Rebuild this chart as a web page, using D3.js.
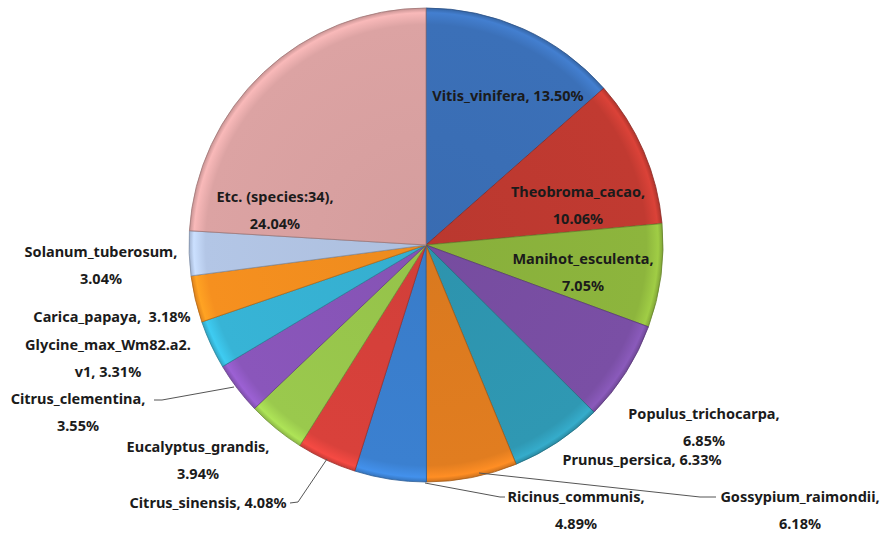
<!DOCTYPE html>
<html>
<head>
  <meta charset="utf-8">
  <title>species pie</title>
  <script src="https://d3js.org/d3.v7.min.js"></script>
  <style>
    body { margin: 0; background: #fff; }
    .lbl { font: bold 14.5px "Noto Sans", "Open Sans", sans-serif; fill: #1b1b1b; white-space: pre; }
    .leader { fill: none; stroke: #555; stroke-width: 1; }
  </style>
</head>
<body>
<svg id="chart" width="884" height="534"></svg>
<script>
  // species and share (%), clockwise from 12 o'clock
  var species = ["Vitis_vinifera", "Theobroma_cacao", "Manihot_esculenta", "Populus_trichocarpa",
    "Prunus_persica", "Gossypium_raimondii", "Ricinus_communis", "Citrus_sinensis",
    "Eucalyptus_grandis", "Citrus_clementina", "Glycine_max_Wm82.a2.v1", "Carica_papaya",
    "Solanum_tuberosum", "Etc. (species:34)"];
  var shares = [13.50, 10.06, 7.05, 6.85, 6.33, 6.18, 4.89, 4.08, 3.94, 3.55, 3.31, 3.18, 3.04, 24.04];
  var colors = ["#3b70b8", "#c13a31", "#8db53d", "#7a4fa5", "#2f98b3", "#e17d20", "#3b80d0",
    "#d9413b", "#9ac94d", "#8a56bb", "#37b4d6", "#f6901f", "#b3c6e6", "#dca3a3"];

  // label text lines as they wrap in the picture
  var labelLines = [
    ["Vitis_vinifera, 13.50%"],
    ["Theobroma_cacao,", "10.06%"],
    ["Manihot_esculenta,", "7.05%"],
    ["Populus_trichocarpa,", "6.85%"],
    ["Prunus_persica, 6.33%"],
    ["Gossypium_raimondii,", "6.18%"],
    ["Ricinus_communis,", "4.89%"],
    ["Citrus_sinensis, 4.08%"],
    ["Eucalyptus_grandis,", "3.94%"],
    ["Citrus_clementina,", "3.55%"],
    ["Glycine_max_Wm82.a2.", "v1, 3.31%"],
    ["Carica_papaya,  3.18%"],
    ["Solanum_tuberosum,", "3.04%"],
    ["Etc. (species:34),", "24.04%"]
  ];

  // layout: label anchor positions (centre of first line) and leader lines
  var labelPos = [[508, 96], [578, 192], [583, 259], [704, 414], [642, 460], [800, 497],
    [576, 497], [208, 503], [198, 447], [78, 399], [108, 345], [112, 317], [101, 252], [275, 197]];
  var leaders = {
    5: [[479, 473], [700, 497], [716, 497]],
    6: [[425, 483], [500, 497], [505, 497]],
    7: [[290, 503], [298, 502], [327, 459]],
    9: [[154, 400], [162, 400], [234, 387]]
  };

  var cx = 426, cy = 245, radius = 237;
  var lineGap = 27;

  var svg = d3.select("#chart");
  var defs = svg.append("defs");

  // radial shading: slightly lighter at rim, like the office bevel
  colors.forEach(function (c, i) {
    var g = defs.append("radialGradient")
      .attr("id", "grad" + i)
      .attr("gradientUnits", "userSpaceOnUse")
      .attr("cx", 0).attr("cy", 0).attr("r", radius);
    g.append("stop").attr("offset", "0%").attr("stop-color", d3.color(c).darker(0.1));
    g.append("stop").attr("offset", "93%").attr("stop-color", c);
    g.append("stop").attr("offset", "98%").attr("stop-color", d3.color(c).brighter(0.35));
    g.append("stop").attr("offset", "100%").attr("stop-color", d3.color(c).darker(0.3));
  });

  var pie = d3.pie().sort(null).value(function (d) { return d; });
  var arc = d3.arc().innerRadius(0).outerRadius(radius);

  var g = svg.append("g").attr("transform", "translate(" + cx + "," + cy + ")");

  g.selectAll("path.slice")
    .data(pie(shares))
    .enter().append("path")
    .attr("class", "slice")
    .attr("d", arc)
    .attr("fill", function (d, i) { return "url(#grad" + i + ")"; })
    .attr("stroke", function (d, i) { return d3.color(colors[i]).darker(0.9); })
    .attr("stroke-width", 0.8)
    .attr("stroke-linejoin", "round");

  // leader lines
  Object.keys(leaders).forEach(function (k) {
    svg.append("path")
      .attr("class", "leader")
      .attr("d", d3.line()(leaders[k]));
  });

  // labels
  labelLines.forEach(function (lines, i) {
    var t = svg.append("text")
      .attr("class", "lbl")
      .attr("text-anchor", "middle")
      .attr("x", labelPos[i][0])
      .attr("y", labelPos[i][1]);
    lines.forEach(function (s, j) {
      t.append("tspan")
        .attr("x", labelPos[i][0])
        .attr("dy", j === 0 ? "0.35em" : lineGap)
        .text(s);
    });
  });
</script>
</body>
</html>
